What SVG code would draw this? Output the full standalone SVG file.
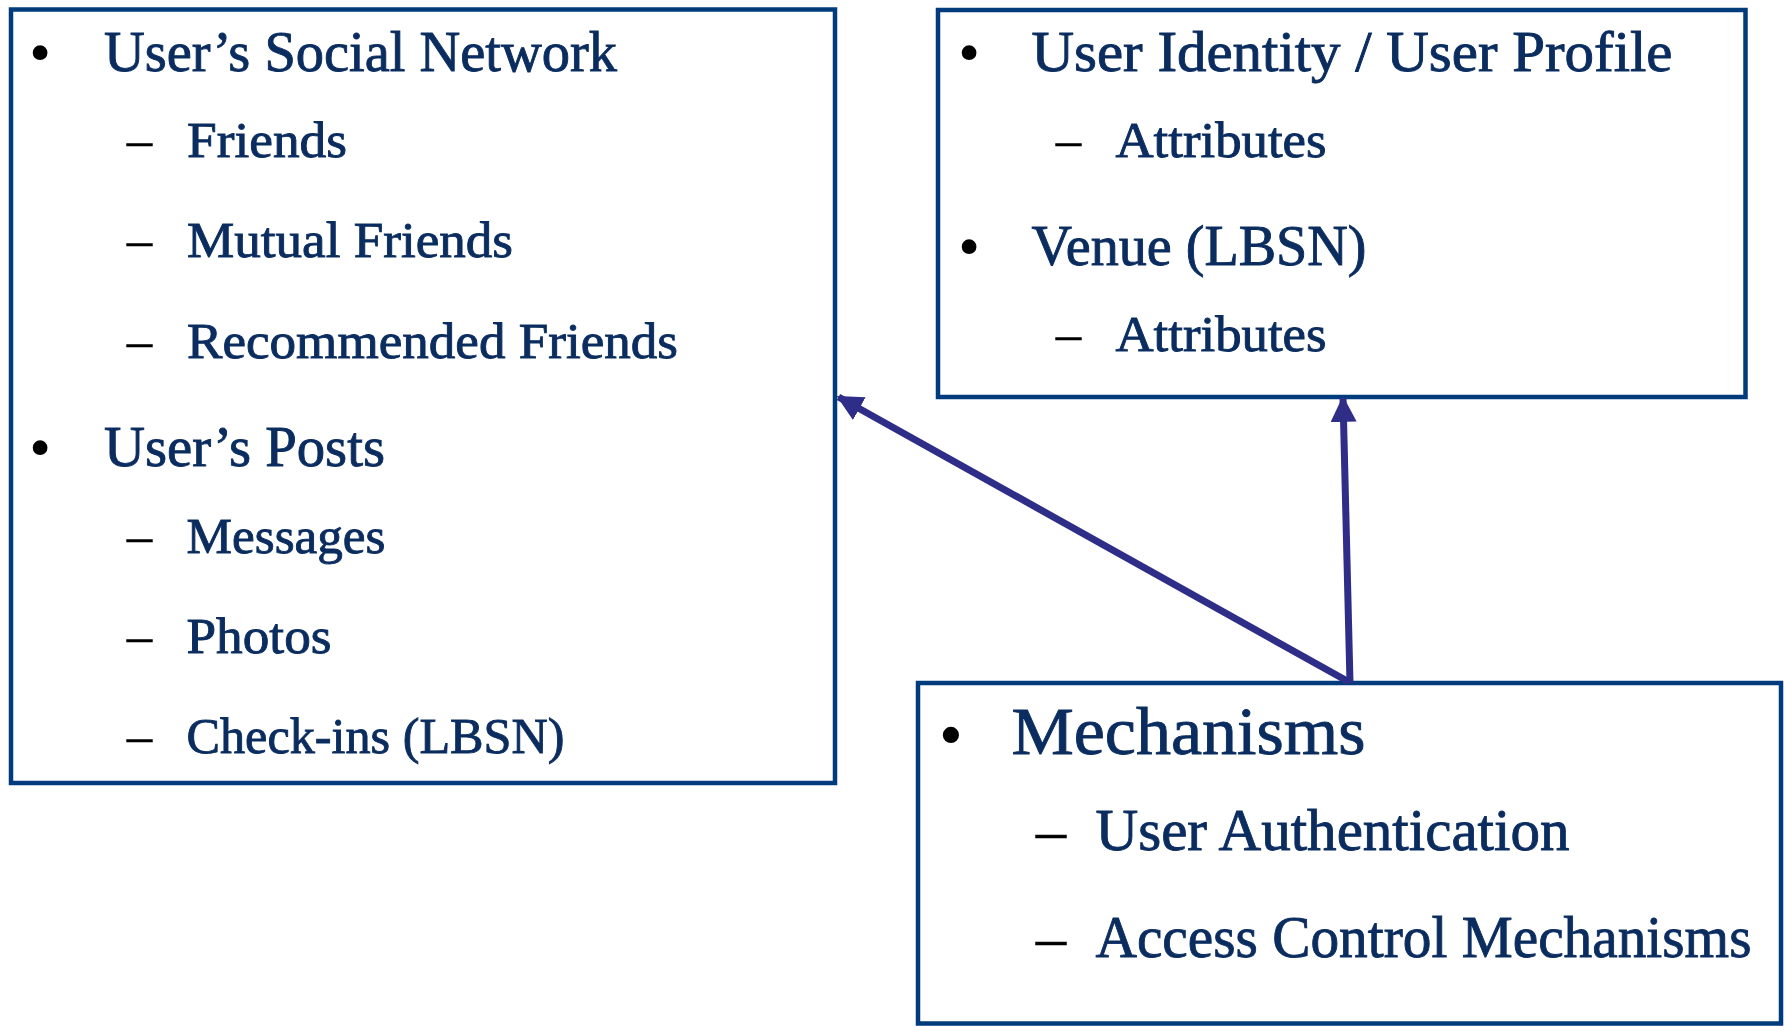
<svg xmlns="http://www.w3.org/2000/svg" width="1784" height="1026" viewBox="0 0 1784 1026">
<style>
.box{fill:#fff;stroke:#003B7C;stroke-width:4.5}
.t{font-family:"Liberation Serif","Times New Roman",serif;fill:#0A2C5F;stroke:#0A2C5F;stroke-width:0.9}
.h{font-size:56px}
.s{font-size:50px}
.bm{font-family:"Liberation Serif","Times New Roman",serif;fill:#000;font-size:62px;text-anchor:middle}
.dm{font-family:"Liberation Serif","Times New Roman",serif;fill:#000;stroke:#000;stroke-width:0.6;font-size:50px}
.conn{stroke:#2E2D88;stroke-width:7;fill:none}
</style>
<defs>
<marker id="ah" markerUnits="userSpaceOnUse" markerWidth="26" markerHeight="26" viewBox="0 0 24 24" refX="22" refY="12" orient="auto">
<path d="M0,0 L24,12 L0,24 Z" fill="#2E2D88"/>
</marker>
</defs>
<rect width="1784" height="1026" fill="#fff"/>
<g id="node-social">
<rect class="box" x="11" y="9.5" width="824" height="773.5"/>
<text class="bm" x="40" y="73">•</text>
<text class="t h" x="104" y="71" textLength="513" lengthAdjust="spacingAndGlyphs">User’s Social Network</text>
<text class="dm" x="127" y="157">–</text>
<text class="t s" x="187" y="157" textLength="160" lengthAdjust="spacingAndGlyphs">Friends</text>
<text class="dm" x="127" y="257">–</text>
<text class="t s" x="187" y="257" textLength="326" lengthAdjust="spacingAndGlyphs">Mutual Friends</text>
<text class="dm" x="127" y="358">–</text>
<text class="t s" x="187" y="358" textLength="491" lengthAdjust="spacingAndGlyphs">Recommended Friends</text>
<text class="bm" x="40" y="468">•</text>
<text class="t h" x="104" y="466" textLength="281" lengthAdjust="spacingAndGlyphs">User’s Posts</text>
<text class="dm" x="127" y="553">–</text>
<text class="t s" x="186.5" y="553" textLength="199" lengthAdjust="spacingAndGlyphs">Messages</text>
<text class="dm" x="127" y="653">–</text>
<text class="t s" x="186.5" y="653" textLength="145" lengthAdjust="spacingAndGlyphs">Photos</text>
<text class="dm" x="127" y="753">–</text>
<text class="t s" x="186.5" y="753" textLength="378" lengthAdjust="spacingAndGlyphs">Check-ins (LBSN)</text>
</g>
<g id="node-identity">
<rect class="box" x="938" y="10" width="807.5" height="387"/>
<text class="bm" x="969" y="73">•</text>
<text class="t h" x="1031.5" y="71" textLength="641" lengthAdjust="spacingAndGlyphs">User Identity / User Profile</text>
<text class="dm" x="1056" y="157">–</text>
<text class="t s" x="1115.5" y="157" textLength="211" lengthAdjust="spacingAndGlyphs">Attributes</text>
<text class="bm" x="969" y="267">•</text>
<text class="t h" x="1031.5" y="265" textLength="335" lengthAdjust="spacingAndGlyphs">Venue (LBSN)</text>
<text class="dm" x="1056" y="351">–</text>
<text class="t s" x="1115.5" y="351" textLength="211" lengthAdjust="spacingAndGlyphs">Attributes</text>
</g>
<g id="node-mechanisms">
<rect class="box" x="918" y="683" width="863" height="340.5"/>
<text class="bm" x="951" y="757" style="font-size:68px">•</text>
<text class="t" x="1011.5" y="754" style="font-size:68px" textLength="354" lengthAdjust="spacingAndGlyphs">Mechanisms</text>
<text class="dm" x="1036" y="850" style="font-size:60px">–</text>
<text class="t" x="1095.5" y="850" style="font-size:60px" textLength="474" lengthAdjust="spacingAndGlyphs">User Authentication</text>
<text class="dm" x="1036" y="957" style="font-size:60px">–</text>
<text class="t" x="1095.5" y="957" style="font-size:60px" textLength="656" lengthAdjust="spacingAndGlyphs">Access Control Mechanisms</text>
</g>
<g id="connectors">
<line class="conn" x1="1349" y1="682" x2="838.5" y2="397" marker-end="url(#ah)"/>
<line class="conn" x1="1350" y1="683" x2="1343" y2="398" marker-end="url(#ah)"/>
</g>
</svg>
